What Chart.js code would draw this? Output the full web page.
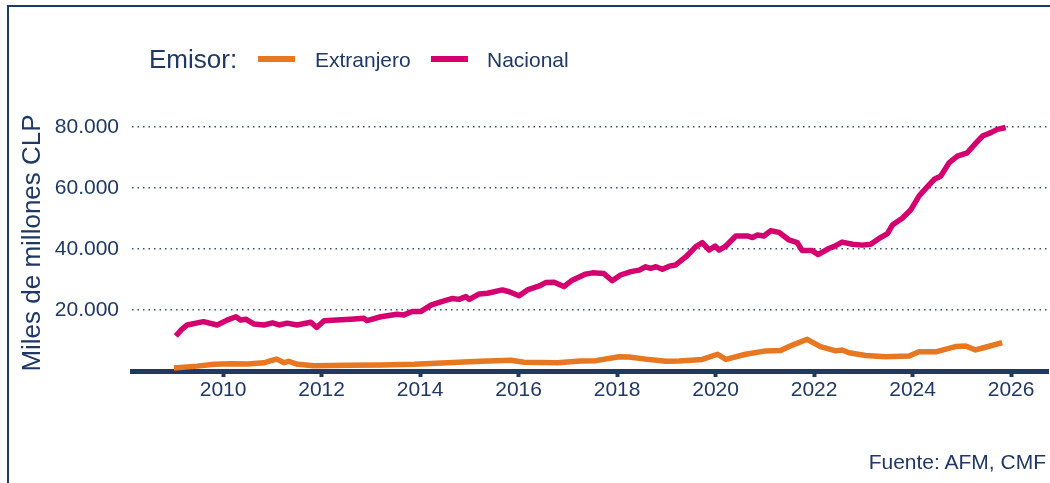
<!DOCTYPE html>
<html>
<head>
<meta charset="utf-8">
<script src="https://cdn.jsdelivr.net/npm/chart.js@4"></script>
<style>
  html, body { margin: 0; padding: 0; background: #fff; overflow: hidden; }
  body { width: 1050px; height: 483px; position: relative; font-family: 'Liberation Sans', Arial, sans-serif; color: #1f3864; }
  .frame { position: absolute; left: 7px; top: 5px; width: 1200px; height: 700px; border: 2px solid #1f3864; box-sizing: border-box; }
  .wrap { position: absolute; left: 0; top: 0; width: 1050px; height: 483px; }
  .legend { position: absolute; left: 0; top: 0; }
  .legend span { position: absolute; white-space: nowrap; line-height: 1; }
  .key { position: absolute; height: 6px; }
  .source { position: absolute; right: 4px; top: 450px; font-size: 21px; white-space: nowrap; }
</style>
</head>
<body>
<div class="frame"></div>
<div class="wrap"><canvas id="chart"></canvas></div>
<div class="legend">
  <span style="left:149px; top:46px; font-size:26px;">Emisor:</span>
  <div class="key" style="left:258px; top:56px; width:37px; background:#e87722;"></div>
  <span style="left:315px; top:49px; font-size:21px;">Extranjero</span>
  <div class="key" style="left:431px; top:56px; width:37px; background:#d4006f;"></div>
  <span style="left:487px; top:49px; font-size:21px;">Nacional</span>
</div>
<div class="source">Fuente: AFM, CMF</div>
<script>
  // Lecturas aproximadas del grafico (fecha en años decimales, miles de millones CLP)
  const nacionalFechas = [
    2009.04, 2009.15, 2009.27, 2009.6, 2009.88, 2010.08, 2010.26, 2010.36, 2010.46, 2010.63,
    2010.83, 2011.0, 2011.14, 2011.3, 2011.5, 2011.78, 2011.9, 2012.05, 2012.31, 2012.59,
    2012.86, 2012.92, 2013.2, 2013.53, 2013.67, 2013.84, 2014.01, 2014.22, 2014.42, 2014.66,
    2014.79, 2014.93, 2015.0, 2015.2, 2015.37, 2015.67, 2015.81, 2016.01, 2016.18, 2016.42,
    2016.55, 2016.72, 2016.92, 2017.09, 2017.36, 2017.5, 2017.73, 2017.9, 2018.07, 2018.28,
    2018.45, 2018.58, 2018.68, 2018.79, 2018.92, 2019.06, 2019.19, 2019.4, 2019.6, 2019.73,
    2019.87, 2019.99, 2020.07, 2020.21, 2020.41, 2020.65, 2020.75, 2020.85, 2020.98, 2021.12,
    2021.29, 2021.49, 2021.66, 2021.76, 2021.96, 2022.08, 2022.3, 2022.4, 2022.57, 2022.78,
    2022.98, 2023.15, 2023.32, 2023.49, 2023.59, 2023.79, 2023.96, 2024.13, 2024.27, 2024.44,
    2024.57, 2024.74, 2024.91, 2025.11, 2025.28, 2025.42, 2025.59, 2025.72, 2025.89
  ]
  const nacionalValores = [
    11500, 13500, 15100, 16200, 15100, 16700, 17800, 16700, 17000, 15400,
    15100, 15800, 15100, 15700, 15100, 16000, 14300, 16500, 16700, 17000,
    17300, 16500, 17800, 18600, 18400, 19500, 19500, 21600, 22700, 23800,
    23500, 24400, 23500, 25300, 25500, 26600, 26000, 24700, 26600, 27900,
    29000, 29100, 27700, 29800, 31800, 32200, 32000, 29600, 31500, 32600,
    33100, 34200, 33700, 34200, 33400, 34400, 34800, 37500, 40800, 42100,
    39700, 41000, 39700, 41000, 44300, 44300, 43800, 44600, 44300, 46000,
    45500, 43000, 42100, 39500, 39500, 38200, 40200, 40800, 42300, 41600,
    41300, 41600, 43500, 45100, 47900, 50100, 52800, 57400, 59900, 62900,
    63900, 68300, 70500, 71600, 74700, 77100, 78200, 79300, 79900
  ]
  const extranjeroFechas = [
    2009.0, 2009.47, 2009.82, 2010.16, 2010.49, 2010.83, 2010.97, 2011.09, 2011.24, 2011.33,
    2011.51, 2011.85, 2012.52, 2013.2, 2013.88, 2014.55, 2015.23, 2015.84, 2016.11, 2016.79,
    2017.26, 2017.57, 2018.04, 2018.24, 2018.58, 2018.99, 2019.26, 2019.73, 2020.04, 2020.21,
    2020.61, 2021.02, 2021.32, 2021.56, 2021.86, 2022.13, 2022.44, 2022.57, 2022.71, 2023.05,
    2023.46, 2023.93, 2024.13, 2024.47, 2024.87, 2025.08, 2025.28, 2025.48, 2025.82
  ]
  const extranjeroValores = [
    1000, 1600, 2200, 2400, 2300, 2700, 3400, 3900, 2700, 3200,
    2200, 1750, 1850, 2000, 2200, 2700, 3200, 3500, 2850, 2700,
    3300, 3400, 4700, 4600, 3900, 3200, 3300, 3800, 5500, 3800,
    5500, 6600, 6700, 8500, 10400, 8000, 6600, 6900, 6000, 5100,
    4700, 4900, 6300, 6300, 8000, 8200, 6900, 7800, 9300
  ]
  const xTicks = [2010, 2012, 2014, 2016, 2018, 2020, 2022, 2024, 2026]
  const yTicks = [20000, 40000, 60000, 80000]

  const navy = '#1f3864'
  const font = 'Liberation Sans, Arial, sans-serif'

  const toPoints = (fechas, valores) => fechas.map((f, i) => ({ x: f, y: valores[i] }))

  new Chart(document.getElementById('chart'), {
    type: 'line',
    data: {
      datasets: [
        {
          label: 'Extranjero',
          data: toPoints(extranjeroFechas, extranjeroValores),
          borderColor: '#e87722',
          borderWidth: 5.5,
          pointRadius: 0,
          borderJoinStyle: 'round',
          tension: 0
        },
        {
          label: 'Nacional',
          data: toPoints(nacionalFechas, nacionalValores),
          borderColor: '#d4006f',
          borderWidth: 5.5,
          pointRadius: 0,
          borderJoinStyle: 'round',
          tension: 0
        }
      ]
    },
    options: {
      responsive: true,
      maintainAspectRatio: false,
      animation: false,
      layout: { padding: { left: 0, top: 115, right: 2, bottom: 0 } },
      plugins: {
        legend: { display: false },
        tooltip: { enabled: false }
      },
      scales: {
        x: {
          type: 'linear',
          min: 2008.15,
          max: 2026.75,
          afterBuildTicks: (scale) => { scale.ticks = xTicks.map(v => ({ value: v })) },
          afterFit: (scale) => { scale.height = 112 },
          border: { display: true, color: navy, width: 5 },
          grid: { drawOnChartArea: false, drawTicks: true, tickLength: 6, tickWidth: 4, tickColor: navy },
          ticks: {
            color: navy,
            padding: 1,
            maxRotation: 0,
            font: { family: font, size: 21 },
            callback: (v) => String(v)
          }
        },
        y: {
          min: 0,
          max: 84000,
          afterBuildTicks: (scale) => { scale.ticks = yTicks.map(v => ({ value: v })) },
          afterFit: (scale) => { scale.width = 132 },
          // en v4 el trazo punteado de la grilla sale de border.dash
          border: { display: false, dash: [1.5, 4] },
          grid: { drawTicks: false, color: '#3b4f72', lineWidth: 1.4 },
          ticks: {
            color: navy,
            padding: 13,
            font: { family: font, size: 21 },
            callback: (v) => v.toLocaleString('de-DE')
          },
          title: {
            display: true,
            text: 'Miles de millones CLP',
            color: navy,
            font: { family: font, size: 26 },
            padding: { top: 17, bottom: 0 }
          }
        }
      }
    }
  })
</script>
</body>
</html>
